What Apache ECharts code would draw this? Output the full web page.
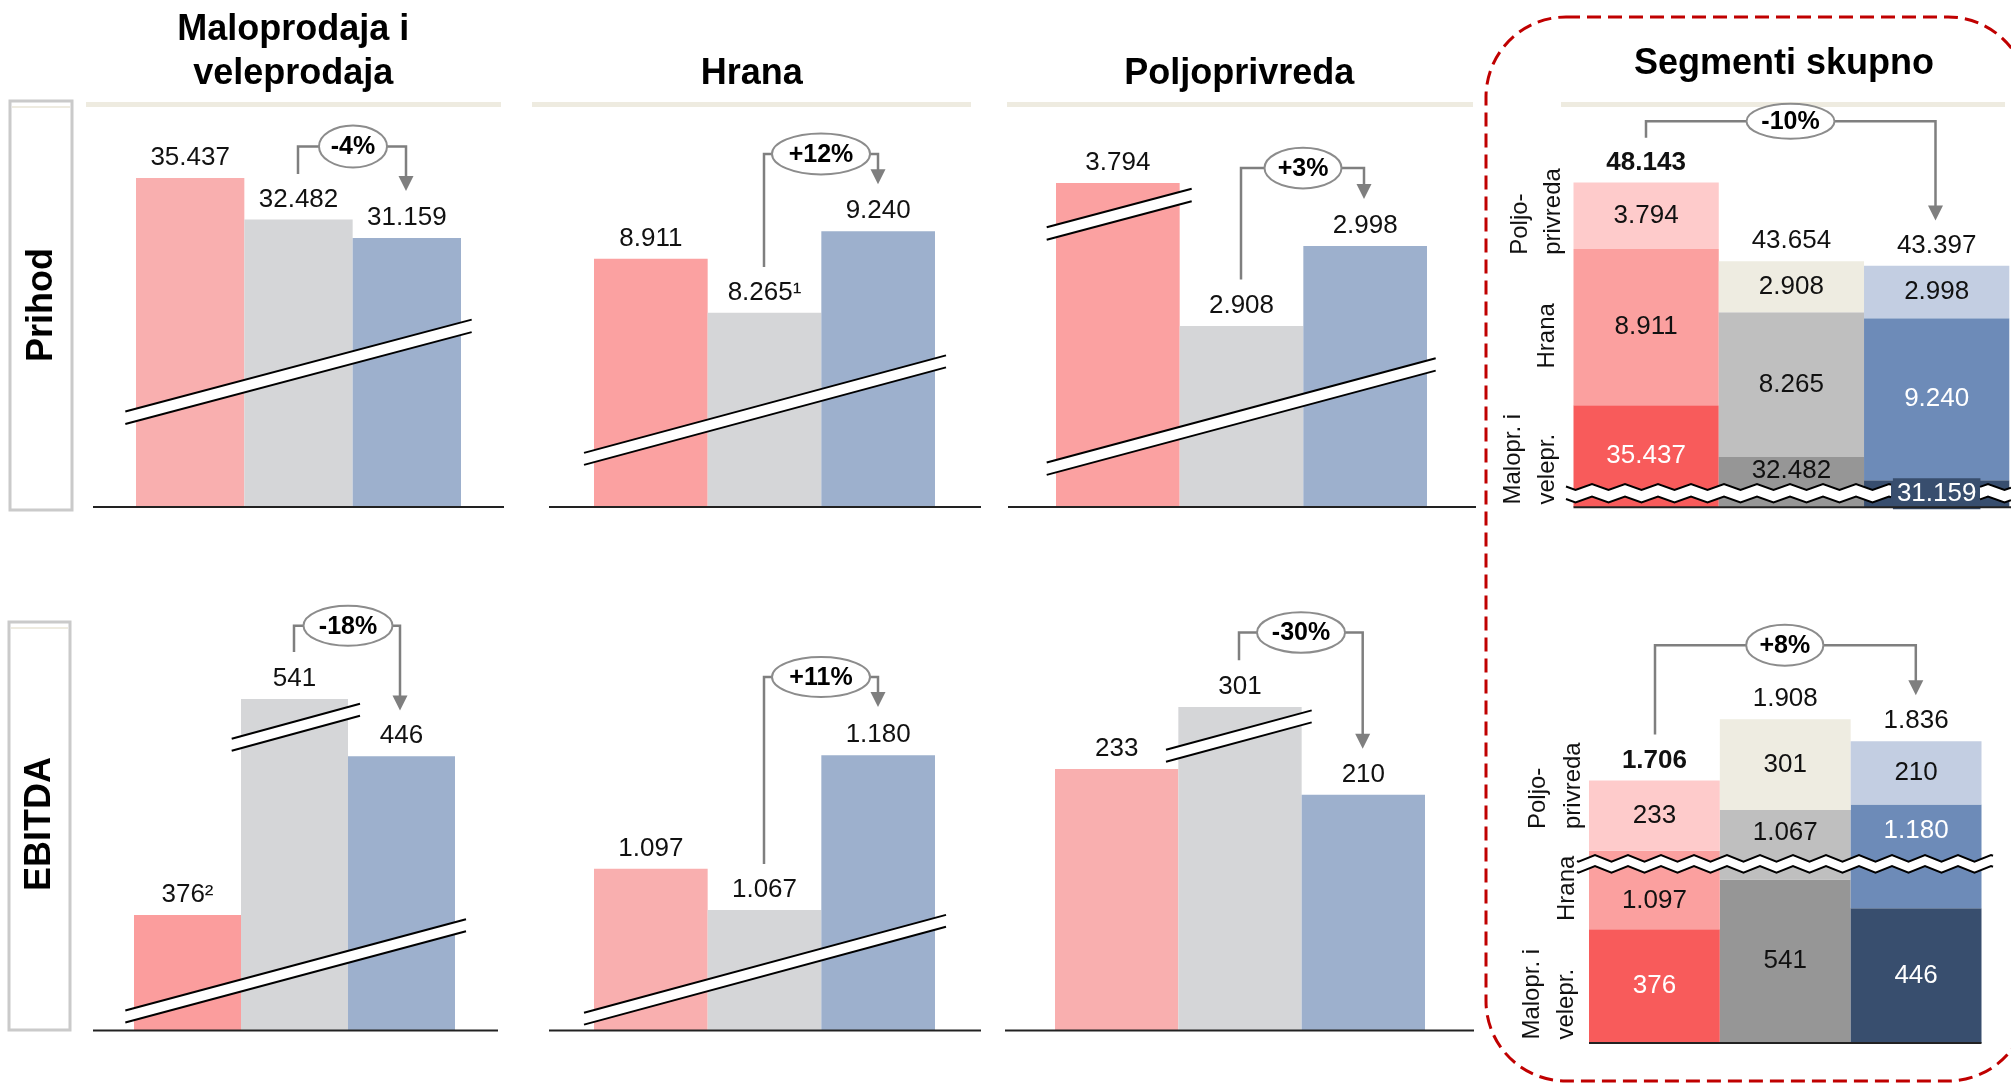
<!DOCTYPE html>
<html>
<head>
<meta charset="utf-8">
<script src="https://cdn.jsdelivr.net/npm/echarts@6/dist/echarts.min.js"></script>
<style>
html,body{margin:0;padding:0;background:#ffffff;}
#chart{width:2011px;height:1084px;}
</style>
</head>
<body>
<div id="chart"></div>
<script>
// ---------------- DATA ----------------
const categories = ['Razdoblje 1', 'Razdoblje 2', 'Razdoblje 3'];

// Prihod (revenue) by segment
const prihodMaloprodaja = [35437, 32482, 31159];
const prihodHrana = [8911, 8265, 9240];
const prihodPoljoprivreda = [3794, 2908, 2998];
const prihodUkupno = [48143, 43654, 43397];
const prihodPromjena = ['-4%', '+12%', '+3%', '-10%'];

// EBITDA by segment
const ebitdaMaloprodaja = [376, 541, 446];
const ebitdaHrana = [1097, 1067, 1180];
const ebitdaPoljoprivreda = [233, 301, 210];
const ebitdaUkupno = [1706, 1908, 1836];
const ebitdaPromjena = ['-18%', '+11%', '-30%', '+8%'];

// footnote markers
const prihodHranaNapomene = ['', '¹', ''];
const ebitdaMaloNapomene = ['²', '', ''];

// texts
const panelTitles = ['Maloprodaja i', 'veleprodaja', 'Hrana', 'Poljoprivreda', 'Segmenti skupno'];
const rowTitles = ['Prihod', 'EBITDA'];
const segmentNames = [['Malopr. i', 'velepr.'], ['Hrana'], ['Poljo-', 'privreda']];

// ---------------- HELPERS ----------------
const FONT = '"Liberation Sans", Arial, Helvetica, sans-serif';
function fmt(v) { return String(v).replace(/\B(?=(\d{3})+(?!\d))/g, '.'); }

const G = [];
function poly(pts, color, w, z) {
  G.push({ type: 'polyline', silent: true, z: z || 50, shape: { points: pts }, style: { stroke: color, lineWidth: w, fill: null } });
}
function fillPoly(pts, color, z) {
  G.push({ type: 'polygon', silent: true, z: z || 50, shape: { points: pts }, style: { fill: color } });
}
function txt(x, y, s, font, opt) {
  opt = opt || {};
  G.push({ type: 'text', silent: true, z: opt.z || 60, x: x, y: y, rotation: opt.rot || 0,
    style: { text: s, font: font, fill: opt.color || '#111', align: opt.align || 'center', verticalAlign: opt.va || 'middle' } });
}
function breakBand(xa, ya, xb, yb, gap) {
  fillPoly([[xa, ya], [xb, yb], [xb, yb + gap], [xa, ya + gap]], '#ffffff', 50);
  poly([[xa, ya], [xb, yb]], '#000', 2, 51);
  poly([[xa, ya + gap], [xb, yb + gap]], '#000', 2, 51);
}
function zz(xs, xe, yc, amp, per, xp) {
  const h = per / 2;
  const yAt = x => {
    let t = ((x - xp) / per) % 1; if (t < 0) t += 1;
    const f = t < 0.5 ? t * 2 : 2 - t * 2;
    return yc - amp + 2 * amp * f;
  };
  const pts = [[xs, yAt(xs)]];
  const k = Math.ceil((xs - xp) / h);
  for (let x = xp + k * h; x < xe; x += h) if (x > xs) pts.push([x, yAt(x)]);
  pts.push([xe, yAt(xe)]);
  return pts;
}
function zigzagBand(xs, xe, yUp, yLo, amp, per, xp) {
  const a = zz(xs, xe, yUp, amp, per, xp), b = zz(xs, xe, yLo, amp, per, xp);
  fillPoly(a.concat(b.slice().reverse()), '#ffffff', 50);
  poly(a, '#000', 2, 51);
  poly(b, '#000', 2, 51);
}
function growth(x1, y1, yTop, cx, rx, ry, x2, yTip, label) {
  const gray = '#7F7F7F';
  poly([[x1, y1], [x1, yTop], [cx - rx, yTop]], gray, 2.5, 55);
  poly([[cx + rx, yTop], [x2, yTop], [x2, yTip - 12]], gray, 2.5, 55);
  fillPoly([[x2 - 7.5, yTip - 15], [x2 + 7.5, yTip - 15], [x2, yTip]], gray, 55);
  G.push({ type: 'ellipse', silent: true, z: 56, shape: { cx: cx, cy: yTop, rx: rx, ry: ry }, style: { fill: '#fff', stroke: '#8C8C8C', lineWidth: 2 } });
  txt(cx, yTop + 1, label, 'bold 25px ' + FONT, { z: 57, color: '#000' });
}

// ---------------- LAYOUT ----------------
const GRAY = '#D5D6D8', BLUE = '#9DB0CD';
const simplePanels = [
  { values: prihodMaloprodaja, notes: null, first: '#F9AFAF', x0: 136, x1: 461, top: 130, bottom: 507, min: 11986, ppu: 0.014025 },
  { values: prihodHrana, notes: prihodHranaNapomene, first: '#FBA1A1', x0: 594, x1: 935, top: 150, bottom: 507, min: 5944.5, ppu: 0.08369 },
  { values: prihodPoljoprivreda, notes: null, first: '#FBA1A1', x0: 1056, x1: 1427, top: 182.9, bottom: 507, min: 2704, ppu: 0.8878 },
  { values: ebitdaMaloprodaja, notes: ebitdaMaloNapomene, first: '#FB9D9D', x0: 134, x1: 455, top: 699, bottom: 1030.5, min: 325, ppu: 2.267 },
  { values: ebitdaHrana, notes: null, first: '#F9AFAF', x0: 594, x1: 935, top: 650, bottom: 1030.5, min: 978.9, ppu: 1.369 },
  { values: ebitdaPoljoprivreda, notes: null, first: '#F9AFAF', x0: 1055, x1: 1425, top: 707, bottom: 1030.5, min: 0, ppu: 1.1223 }
];

const stackColors = [
  ['#F85B5B', '#969696', '#384E6E'],
  ['#FBA09F', '#BFBFBF', '#6D8BB8'],
  ['#FECBCB', '#EEECE1', '#C3CEE2']
];
const stackLabelColors = [
  ['#fff', '#111', '#fff'],
  ['#111', '#111', '#fff'],
  ['#111', '#111', '#111']
];
const stackPanels = [
  { segs: [prihodMaloprodaja, prihodHrana, prihodPoljoprivreda], totals: prihodUkupno,
    x0: 1573.5, x1: 2009.3, top: 130, bottom: 507.3, min: 29610, ppu: 0.01752, brk: null,
    offsets: [[0, -11, 0], [0, 0, 0], [0, 0, 0]], bgItem: [0, 2] },
  { segs: [ebitdaMaloprodaja, ebitdaHrana, ebitdaPoljoprivreda], totals: ebitdaUkupno,
    x0: 1589, x1: 1981.5, top: 700, bottom: 1042.9, min: 0, ppu: 0.302, brk: [590, 1427],
    offsets: [[0, 0, 0], [11, -12, -26], [0, 0, 0]], bgItem: null }
];

const option = { animation: false, backgroundColor: '#ffffff', grid: [], xAxis: [], yAxis: [], series: [] };

simplePanels.forEach(p => {
  const gi = option.grid.length;
  option.grid.push({ left: p.x0, top: p.top, width: p.x1 - p.x0, height: p.bottom - p.top, containLabel: false });
  option.xAxis.push({ type: 'category', gridIndex: gi, data: categories, show: false });
  option.yAxis.push({ type: 'value', gridIndex: gi, min: p.min, max: p.min + (p.bottom - p.top) / p.ppu, show: false });
  const cols = [p.first, GRAY, BLUE];
  option.series.push({
    type: 'bar', xAxisIndex: gi, yAxisIndex: gi, data: p.values, barCategoryGap: '0%', clip: true,
    itemStyle: { color: q => cols[q.dataIndex] },
    label: { show: true, position: 'top', distance: 7, fontSize: 26, fontFamily: FONT, color: '#111',
      formatter: q => fmt(q.value) + (p.notes ? p.notes[q.dataIndex] : '') }
  });
});

stackPanels.forEach(p => {
  const gi = option.grid.length;
  const hidden = p.brk ? p.brk[1] - p.brk[0] : 0;
  option.grid.push({ left: p.x0, top: p.top, width: p.x1 - p.x0, height: p.bottom - p.top, containLabel: false });
  option.xAxis.push({ type: 'category', gridIndex: gi, data: categories, show: false });
  const ya = { type: 'value', gridIndex: gi, min: p.min, max: p.min + (p.bottom - p.top) / p.ppu + hidden, show: false };
  if (p.brk) { ya.breaks = [{ start: p.brk[0], end: p.brk[1], gap: 0 }]; ya.breakArea = { show: false }; }
  option.yAxis.push(ya);
  p.segs.forEach((vals, s) => {
    option.series.push({
      type: 'bar', xAxisIndex: gi, yAxisIndex: gi, stack: 'st' + gi, barCategoryGap: '0%', clip: true,
      data: vals.map((v, b) => {
        const lab = { color: stackLabelColors[s][b], offset: [0, p.offsets[s][b]] };
        if (p.bgItem && p.bgItem[0] === s && p.bgItem[1] === b) { lab.backgroundColor = stackColors[s][b]; lab.padding = [3, 4, 2, 4]; }
        return { value: v, itemStyle: { color: stackColors[s][b] }, label: lab };
      }),
      label: { show: true, position: 'inside', fontSize: 26, fontFamily: FONT, textBorderWidth: 0, formatter: q => fmt(q.value) }
    });
  });
  option.series.push({
    type: 'bar', xAxisIndex: gi, yAxisIndex: gi, stack: 'st' + gi, barCategoryGap: '0%', clip: true,
    data: p.totals.map(() => 0), itemStyle: { color: 'rgba(0,0,0,0)' },
    label: { show: true, position: 'top', distance: 7,
      formatter: q => (q.dataIndex === 0 ? '{b|' : '{n|') + fmt(p.totals[q.dataIndex]) + '}',
      rich: { b: { fontSize: 26, fontWeight: 'bold', fontFamily: FONT, color: '#111' },
              n: { fontSize: 26, fontFamily: FONT, color: '#111' } } }
  });
});

// ---------------- DECORATIONS ----------------
// titles
const TF = 'bold 36px ' + FONT;
txt(293.3, 30.5, panelTitles[0], TF, { color: '#000' });
txt(293.3, 74.5, panelTitles[1], TF, { color: '#000' });
txt(751.7, 74.5, panelTitles[2], TF, { color: '#000' });
txt(1239.3, 74.5, panelTitles[3], TF, { color: '#000' });
txt(1784, 64, panelTitles[4], TF, { color: '#000' });
// title bands
[[86, 501], [532, 971], [1007, 1473], [1561, 2005]].forEach(b =>
  G.push({ type: 'rect', silent: true, z: 40, shape: { x: b[0], y: 102, width: b[1] - b[0], height: 5 }, style: { fill: '#EEEBE0' } }));

// row boxes
G.push({ type: 'rect', silent: true, z: 40, shape: { x: 10, y: 101, width: 62, height: 409 }, style: { fill: null, stroke: '#CACACA', lineWidth: 3 } });
G.push({ type: 'rect', silent: true, z: 40, shape: { x: 12, y: 106, width: 58, height: 2 }, style: { fill: '#EEEBE0' } });
G.push({ type: 'rect', silent: true, z: 40, shape: { x: 9, y: 622, width: 61, height: 408 }, style: { fill: null, stroke: '#CACACA', lineWidth: 3 } });
G.push({ type: 'rect', silent: true, z: 40, shape: { x: 11, y: 627, width: 57, height: 2 }, style: { fill: '#EEEBE0' } });
txt(42, 305, rowTitles[0], TF, { rot: Math.PI / 2, color: '#000' });
txt(40, 824, rowTitles[1], TF, { rot: Math.PI / 2, color: '#000' });

// baselines
[[93, 504, 507], [549, 981, 507], [1008, 1476, 507], [1573.5, 2011, 507.3],
 [93, 498, 1030.5], [549, 981, 1030.5], [1005, 1474, 1030.5], [1589, 1981.5, 1043]].forEach(l =>
  poly([[l[0], l[2]], [l[1], l[2]]], '#222', 2, 45));

// diagonal break marks
breakBand(125.3, 411.5, 471.7, 319.6, 12.5);
breakBand(584, 452.9, 946, 355.4, 12);
breakBand(1046.7, 462.5, 1435.7, 358.2, 12.4);
breakBand(1046.7, 227.3, 1191.7, 188.7, 12.5);
breakBand(125.3, 1010.5, 466, 919.2, 12);
breakBand(231.7, 738.8, 360, 703.7, 12);
breakBand(584, 1012.8, 946, 914.9, 11.8);
breakBand(1166, 749.8, 1311.7, 710.4, 12);

// zigzag breaks in the total panels
zigzagBand(1566, 1891, 487, 499.5, 3, 33, 1592);
zigzagBand(1980, 2011, 487, 499.5, 3, 33, 1592);
zigzagBand(1577, 1993, 858.3, 869.3, 3.3, 33, 1595);

// growth annotations
growth(298, 173.9, 146.4, 353, 34, 21, 406, 191.1, prihodPromjena[0]);
growth(764, 266.9, 153.9, 821, 49, 20.5, 878, 184.2, prihodPromjena[1]);
growth(1241, 279.6, 168.1, 1303, 38.5, 20.3, 1364, 199.1, prihodPromjena[2]);
growth(1646, 137.8, 121.2, 1790.5, 44, 17.5, 1935.5, 220.4, prihodPromjena[3]);
growth(294, 651.9, 625.8, 348, 44.5, 20, 400, 710.4, ebitdaPromjena[0]);
growth(764, 864.1, 677, 821, 49, 20, 878, 707, ebitdaPromjena[1]);
growth(1239, 660.3, 632.5, 1301, 44, 20.2, 1362.7, 748.8, ebitdaPromjena[2]);
growth(1655, 734.4, 645.2, 1784.8, 38.6, 20.5, 1915.8, 695.3, ebitdaPromjena[3]);

// segment names (rotated) next to total panels
const SF = '24px ' + FONT;
const R = { rot: Math.PI / 2, align: 'left', color: '#111' };
txt(1520, 254.8, segmentNames[2][0], SF, R);
txt(1553, 254.8, segmentNames[2][1], SF, R);
txt(1547, 368.5, segmentNames[1][0], SF, R);
txt(1513, 504.5, segmentNames[0][0], SF, R);
txt(1547, 504.5, segmentNames[0][1], SF, R);
txt(1538, 829, segmentNames[2][0], SF, R);
txt(1573, 829, segmentNames[2][1], SF, R);
txt(1567, 921, segmentNames[1][0], SF, R);
txt(1532, 1039.6, segmentNames[0][0], SF, R);
txt(1566, 1039.6, segmentNames[0][1], SF, R);

// dashed red frame
G.push({ type: 'rect', silent: true, z: 39, shape: { x: 1486, y: 17, width: 542, height: 1064, r: 80 },
  style: { fill: null, stroke: '#C00000', lineWidth: 3, lineDash: [14, 7] } });

option.graphic = { elements: G };

const chart = echarts.init(document.getElementById('chart'), null, { renderer: 'canvas', width: 2011, height: 1084 });
chart.setOption(option);
</script>
</body>
</html>
